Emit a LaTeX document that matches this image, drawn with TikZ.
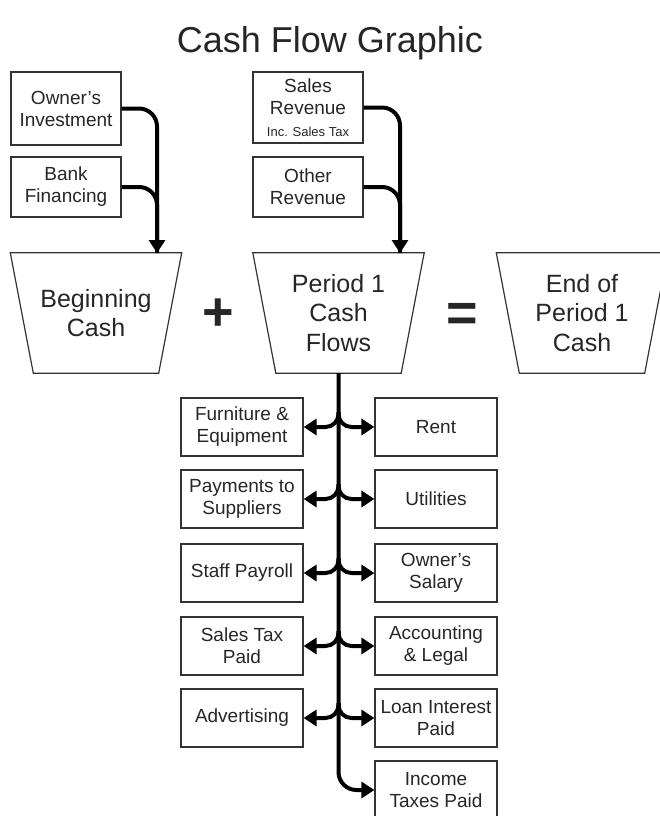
\documentclass[tikz,border=0pt]{standalone}
\usepackage{fontspec}
\setmainfont{Liberation Sans}
\usetikzlibrary{shapes.geometric,arrows.meta,positioning}
\tikzset
{
    inbox/.style   = {rectangle, draw=black!80, line width=1.2pt, align=center, minimum width=110pt, inner sep=2pt, text=black!85, font=\fontsize{19}{22}\selectfont},
    outbox/.style  = {rectangle, draw=black!80, line width=1.2pt, align=center, minimum width=122pt, minimum height=58pt, inner sep=2pt, text=black!85, font=\fontsize{19}{22}\selectfont},
    cashpot/.style = {rectangle, align=center, minimum width=171pt, minimum height=120pt, inner sep=0pt, text=black!85, font=\fontsize{25}{29.5}\selectfont},
    potline/.style = {draw=black!80, line width=1.2pt, line join=miter},
    sign/.style    = {font=\fontsize{54}{54}\selectfont\bfseries, text=black!85},
    flow/.style    = {line width=4pt, rounded corners=18pt, -{Triangle[length=13pt,width=16pt]}},
    merge/.style   = {line width=4pt, rounded corners=18pt},
    branch/.style  = {line width=4pt, rounded corners=13pt, -{Triangle[length=13pt,width=16pt]}}
}

\begin{document}
\begin{tikzpicture}[x=1pt, y=-1pt]
\useasboundingbox (0,0) rectangle (659,816);
\node (title) at (330,43) [font=\fontsize{36}{40}\selectfont, text=black!85] {Cash Flow Graphic};
% money coming in
\node[inbox, minimum height=73pt] (oi) at (66,108.5) {Owner's\\Investment};
\node[inbox, minimum height=60pt] (bf) at (66,187) {Bank\\Financing};
\node[inbox, minimum height=71pt] (sr) at (308,107.5) {Sales\\Revenue\\{\fontsize{13}{15}\selectfont Inc. Sales Tax}};
\node[inbox, minimum height=60pt] (or) at (308,187) {Other\\Revenue};
% the three pots
\node[cashpot] (beg) at (96,313) {Beginning\\Cash};
\node[cashpot] (p1) at (338.5,313) {Period 1\\Cash\\Flows};
\node[cashpot] (end) at (582,313) {End of\\Period 1\\Cash};
\foreach \pot in {beg,p1,end}
    \draw[potline] (\pot.north west) -- (\pot.north east) -- ([xshift=-23pt]\pot.south east) -- ([xshift=23pt]\pot.south west) -- cycle;
\node[sign] (plus) at (218,315) {+};
\node[sign] (equals) at (462,317) {=};
\coordinate (begin) at (157,253);
\coordinate (p1in) at (400,253);
% money going out
\node[outbox] (fe) at (242,427) {Furniture \&\\Equipment};
\node[outbox] (ps) at (242,499) {Payments to\\Suppliers};
\node[outbox] (sp) at (242,573) {Staff Payroll};
\node[outbox] (st) at (242,646) {Sales Tax\\Paid};
\node[outbox] (ad) at (242,718) {Advertising};
\node[outbox] (rent) at (436,427) {Rent};
\node[outbox] (ut) at (436,499) {Utilities};
\node[outbox] (os) at (436,573) {Owner's\\Salary};
\node[outbox] (al) at (436,646) {Accounting\\\& Legal};
\node[outbox] (li) at (436,718) {Loan Interest\\Paid};
\node[outbox] (it) at (436,790) {Income\\Taxes Paid};

\draw[merge] (bf.east) -| (begin);
\draw[flow] (oi.east) -| (begin);
\draw[merge] (or.east) -| (p1in);
\draw[flow] (sr.east) -| (p1in);

\draw[flow] (p1.south) |- (it.west);
\draw[branch] ([yshift=15pt]p1.south |- fe.east) |- (fe.east);
\draw[branch] ([yshift=15pt]p1.south |- ps.east) |- (ps.east);
\draw[branch] ([yshift=15pt]p1.south |- sp.east) |- (sp.east);
\draw[branch] ([yshift=15pt]p1.south |- st.east) |- (st.east);
\draw[branch] ([yshift=15pt]p1.south |- ad.east) |- (ad.east);
\draw[branch] ([yshift=15pt]p1.south |- rent.west) |- (rent.west);
\draw[branch] ([yshift=15pt]p1.south |- ut.west) |- (ut.west);
\draw[branch] ([yshift=15pt]p1.south |- os.west) |- (os.west);
\draw[branch] ([yshift=15pt]p1.south |- al.west) |- (al.west);
\draw[branch] ([yshift=15pt]p1.south |- li.west) |- (li.west);
\end{tikzpicture}
\end{document}
